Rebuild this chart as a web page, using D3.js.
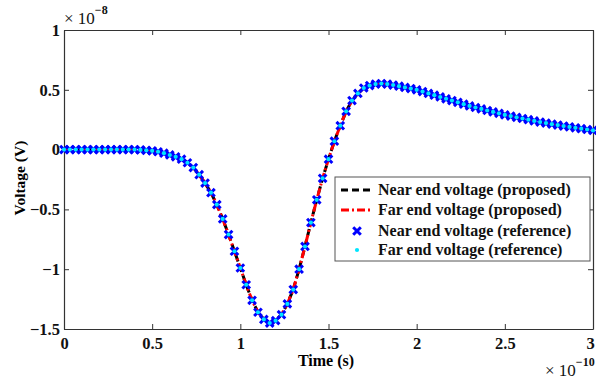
<!DOCTYPE html>
<html>
<head>
<meta charset="utf-8">
<script src="https://cdn.jsdelivr.net/npm/d3@7"></script>
<style>
  body { margin: 0; background: #fff; }
  text { font-family: "Liberation Serif", "Times New Roman", serif; }
</style>
</head>
<body>
<script>
// time samples in units of 1e-10 s (step 1/30)
const timeSteps = d3.range(0, 91).map(k => k / 30);

// voltage in units of 1e-8 V
const nearVoltage = [
  0, 0, 0, 0, 0, 0, 0, 0, 0, 0, 0, 0, 0,
  -0.003, -0.006, -0.01, -0.018, -0.03, -0.045, -0.06, -0.08, -0.11, -0.15, -0.21, -0.28,
  -0.36, -0.46, -0.58, -0.71, -0.85, -0.99, -1.13, -1.26, -1.36, -1.42, -1.45, -1.43,
  -1.38, -1.29, -1.17, -1.0, -0.81, -0.61, -0.42, -0.24, -0.08, 0.07, 0.2, 0.32,
  0.41, 0.47, 0.515, 0.535, 0.548, 0.552, 0.548, 0.54, 0.53, 0.52, 0.51, 0.5,
  0.485, 0.47, 0.455, 0.44, 0.425, 0.41, 0.395, 0.38, 0.365, 0.352, 0.34, 0.327,
  0.315, 0.303, 0.29, 0.28, 0.27, 0.26, 0.25, 0.24, 0.23, 0.222, 0.213, 0.205,
  0.197, 0.19, 0.182, 0.175, 0.168, 0.16
];
const farVoltage = nearVoltage.slice();

const xTicks = [0, 0.5, 1, 1.5, 2, 2.5, 3];
const yTicks = [-1.5, -1, -0.5, 0, 0.5, 1];
const legendLabels = [
  'Near end voltage (proposed)',
  'Far end voltage (proposed)',
  'Near end voltage (reference)',
  'Far end voltage (reference)'
];

const w = 596;
const h = 380;
const m = { left: 64, right: 3, top: 30, bottom: 51 };

const svg = d3.select('body')
  .append('svg')
  .attr('width', w)
  .attr('height', h);

const x = d3.scaleLinear().domain([0, 3]).range([m.left, w - m.right]);
const y = d3.scaleLinear().domain([-1.5, 1]).range([h - m.bottom, m.top]);

const fmt = d => String(d).replace('-', '\u2212');

// axes (MATLAB style box with inward ticks)
svg.append('g')
  .attr('class', 'xaxis')
  .attr('transform', `translate(0,${y(-1.5)})`)
  .call(d3.axisBottom(x).tickValues(xTicks).tickSizeInner(-5).tickSizeOuter(0).tickPadding(8).tickFormat(fmt));
svg.append('g')
  .attr('transform', `translate(0,${y(1)})`)
  .call(d3.axisTop(x).tickValues(xTicks).tickSizeInner(-5).tickSizeOuter(0).tickFormat(''));
svg.append('g')
  .attr('transform', `translate(${x(0)},0)`)
  .call(d3.axisLeft(y).tickValues(yTicks).tickSizeInner(-5).tickSizeOuter(0).tickPadding(4).tickFormat(fmt));
svg.append('g')
  .attr('transform', `translate(${x(3)},0)`)
  .call(d3.axisRight(y).tickValues(yTicks).tickSizeInner(-5).tickSizeOuter(0).tickFormat(''));

svg.selectAll('.domain').attr('stroke', '#333').attr('stroke-width', 1.2);
svg.selectAll('.tick line').attr('stroke', '#333');
svg.selectAll('.tick text')
  .style('font-family', '"Liberation Serif", serif')
  .style('font-size', '16.5px')
  .style('font-weight', 'bold')
  .attr('fill', '#111');
// keep the last x label inside the picture
svg.selectAll('.xaxis .tick text')
  .filter(d => d === 3)
  .attr('dx', -3);

// curves
const line = d3.line()
  .x((d, i) => x(timeSteps[i]))
  .y(d => y(d));

svg.append('path')
  .datum(nearVoltage)
  .attr('d', line)
  .attr('fill', 'none')
  .attr('stroke', '#000')
  .attr('stroke-width', 3)
  .attr('stroke-dasharray', '7,4');

svg.append('path')
  .datum(farVoltage)
  .attr('d', line)
  .attr('fill', 'none')
  .attr('stroke', '#f00')
  .attr('stroke-width', 3)
  .attr('stroke-dasharray', '8,3,2,3');

const cross = (g, cx, cy, s) => {
  g.append('path')
    .attr('d', `M${cx - s},${cy - s}L${cx + s},${cy + s}M${cx - s},${cy + s}L${cx + s},${cy - s}`)
    .attr('stroke', '#0000ff')
    .attr('stroke-width', 3)
    .attr('fill', 'none');
};

const markers = svg.append('g');
nearVoltage.forEach((v, i) => cross(markers, x(timeSteps[i]), y(v), 3.8));

svg.append('g')
  .selectAll('circle')
  .data(farVoltage)
  .enter()
  .append('circle')
  .attr('cx', (d, i) => x(timeSteps[i]))
  .attr('cy', d => y(d))
  .attr('r', 2.1)
  .attr('fill', '#00e5ff');

// axis labels
svg.append('text')
  .attr('x', 326)
  .attr('y', 366)
  .attr('text-anchor', 'middle')
  .style('font-size', '16px')
  .style('font-weight', 'bold')
  .text('Time (s)');

svg.append('text')
  .attr('transform', 'translate(25,178) rotate(-90)')
  .attr('text-anchor', 'middle')
  .style('font-size', '15.5px')
  .style('font-weight', 'bold')
  .text('Voltage (V)');

// exponent labels
const expLabel = (px, py, pow) => {
  const t = svg.append('text')
    .attr('x', px)
    .attr('y', py)
    .style('font-size', '17px')
    .attr('fill', '#111');
  t.append('tspan').text('\u00d7 10');
  t.append('tspan')
    .attr('dy', -10)
    .style('font-size', '12px')
    .style('font-weight', 'bold')
    .text(pow);
};
expLabel(64, 24, '\u22128');
expLabel(545, 376, '\u221210');

// legend
const lg = svg.append('g').attr('transform', 'translate(335,177)');
lg.append('rect')
  .attr('width', 255)
  .attr('height', 84)
  .attr('fill', '#fff')
  .attr('stroke', '#555')
  .attr('stroke-width', 1);

const rowY = [13, 33, 54, 73];
lg.append('line')
  .attr('x1', 6).attr('x2', 38).attr('y1', rowY[0]).attr('y2', rowY[0])
  .attr('stroke', '#000').attr('stroke-width', 3).attr('stroke-dasharray', '7,4');
lg.append('line')
  .attr('x1', 6).attr('x2', 38).attr('y1', rowY[1]).attr('y2', rowY[1])
  .attr('stroke', '#f00').attr('stroke-width', 3).attr('stroke-dasharray', '8,3,2,3');
cross(lg, 22, rowY[2], 3.8);
lg.append('circle').attr('cx', 22).attr('cy', rowY[3]).attr('r', 2.1).attr('fill', '#00e5ff');

lg.selectAll('text.lab')
  .data(legendLabels)
  .enter()
  .append('text')
  .attr('class', 'lab')
  .attr('x', 43)
  .attr('y', (d, i) => rowY[i] + 5)
  .style('font-size', '16px')
  .style('font-weight', 'bold')
  .attr('fill', '#111')
  .text(d => d);
</script>
</body>
</html>
